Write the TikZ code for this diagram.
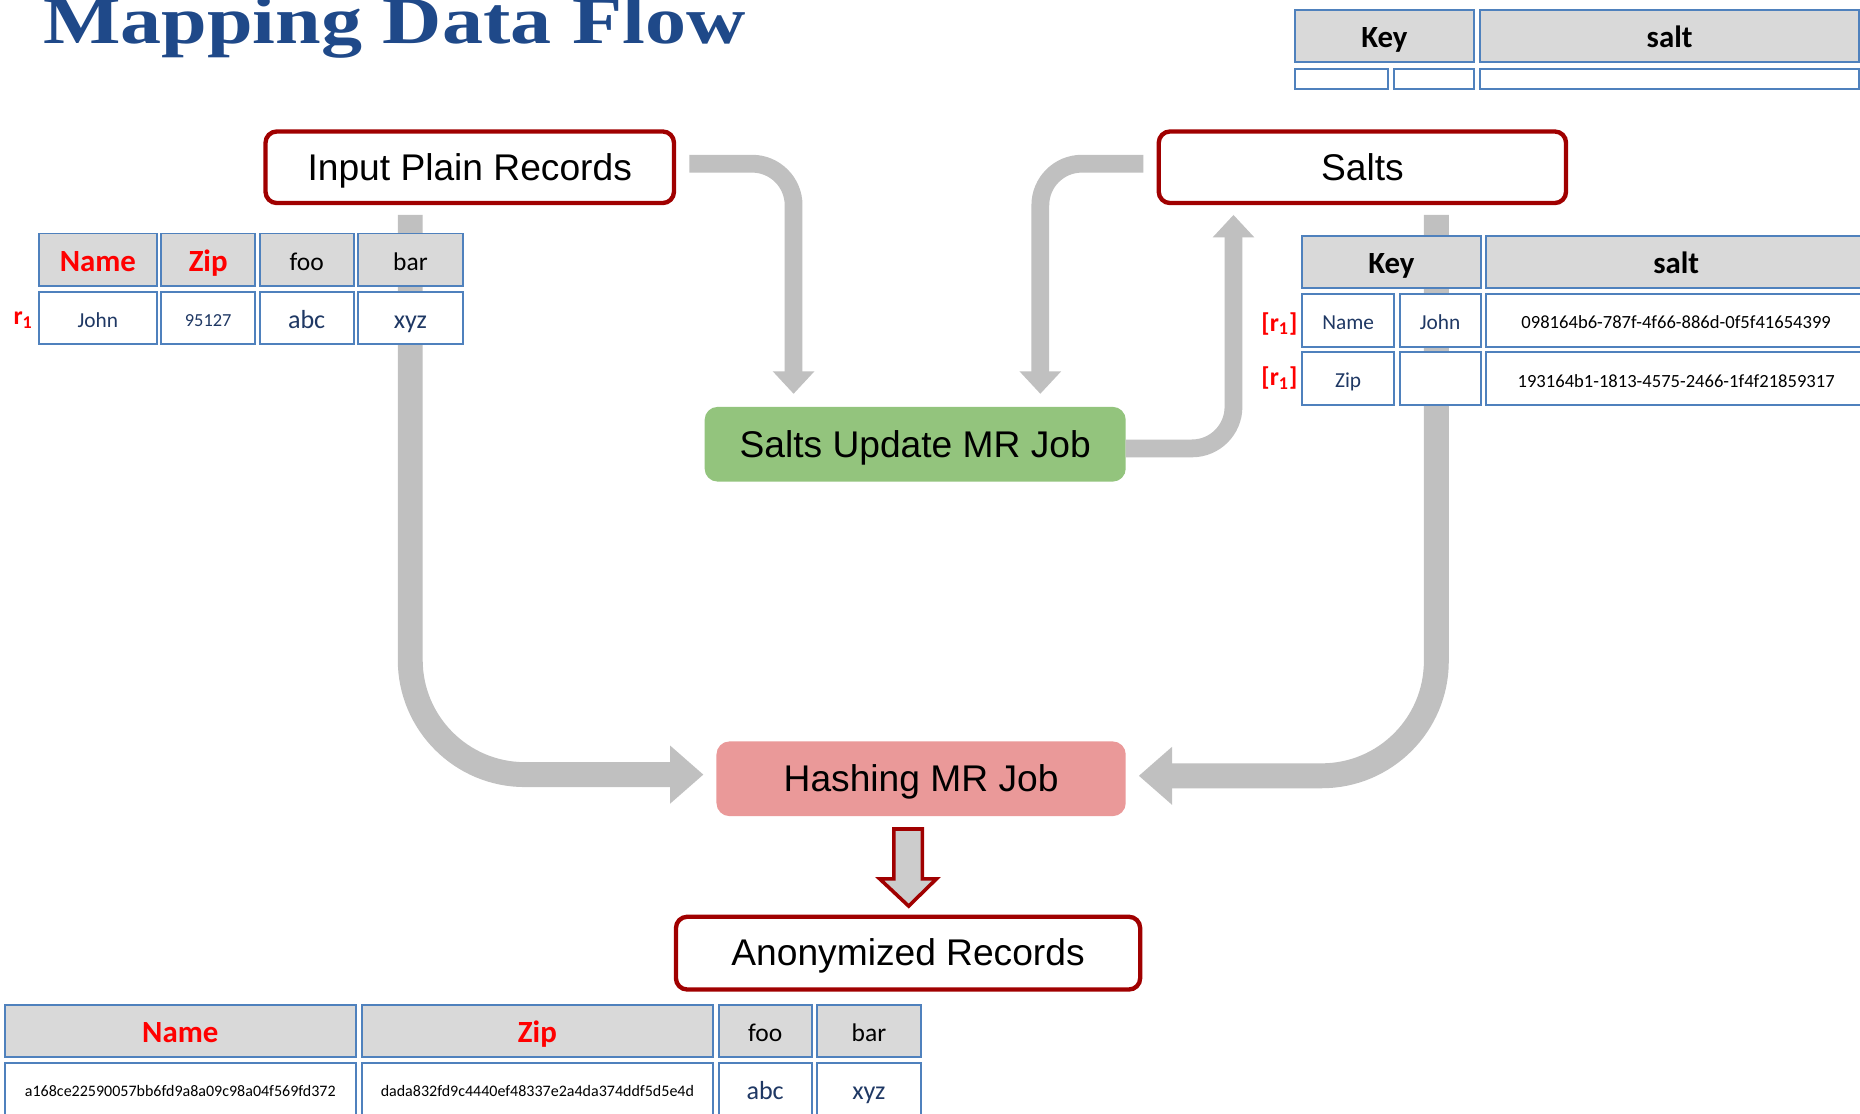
\documentclass[tikz,border=0pt]{standalone}
\usepackage{fontspec}
\usepackage{graphicx}
\setmainfont{Carlito}
\newfontfamily\boxfont{Liberation Sans}
\newfontfamily\titlefont{Liberation Serif}
\usetikzlibrary{arrows.meta,calc}

\definecolor{titleblue}{RGB}{31,73,137}
\definecolor{cellblue}{RGB}{79,129,189}
\definecolor{headgray}{RGB}{217,217,217}
\definecolor{navytext}{RGB}{31,56,100}
\definecolor{boxred}{RGB}{160,0,0}
\definecolor{jobgreen}{RGB}{147,196,125}
\definecolor{jobpink}{RGB}{234,153,153}
\definecolor{flowgray}{RGB}{192,192,192}
\definecolor{blockgray}{RGB}{204,204,204}
\definecolor{keyred}{RGB}{255,0,0}

\begin{document}
\begin{tikzpicture}[x=0.6pt,y=-0.6pt,
  % table cells: width and height in picture units
  cell/.style 2 args={draw=cellblue, line width=1pt, inner sep=0pt, outer sep=0pt,
    minimum width={#1*0.6pt-1pt}, minimum height={#2*0.6pt-1pt}},
  hcell/.style 2 args={cell={#1}{#2}, fill=headgray},
  dcell/.style 2 args={cell={#1}{#2}, fill=white},
  keyhd/.style={font=\fontsize{15.6pt}{18pt}\selectfont\bfseries, text=keyred,
    text height=11.8pt, text depth=0pt},
  boldhd/.style={font=\fontsize{15.6pt}{18pt}\selectfont\bfseries, text=black,
    text height=11.8pt, text depth=0pt},
  plainhd/.style={font=\fontsize{12.9pt}{15pt}\selectfont, text=black,
    text height=10.45pt, text depth=0pt},
  smallval/.style={font=\fontsize{10.8pt}{13pt}\selectfont, text=navytext,
    text height=9.4pt, text depth=0pt},
  zipval/.style={font=\fontsize{9.3pt}{11pt}\selectfont, text=navytext,
    text height=8.65pt, text depth=0pt},
  bigval/.style={font=\fontsize{13.2pt}{15pt}\selectfont, text=navytext,
    text height=10.6pt, text depth=0pt},
  saltval/.style={font=\fontsize{9.4pt}{11pt}\selectfont, text=black,
    text height=8.7pt, text depth=0pt},
  hashval/.style={font=\fontsize{8.1pt}{10pt}\selectfont, text=black,
    text height=8.05pt, text depth=0pt},
  rowlabel/.style={font=\fontsize{13pt}{15pt}\selectfont\bfseries, text=keyred, inner sep=0pt},
  % process boxes
  databox/.style 2 args={draw=boxred, line width=2.2pt, rounded corners=5.7pt, fill=white,
    inner sep=0pt, outer sep=0pt,
    minimum width={#1*0.6pt-2.2pt}, minimum height={#2*0.6pt-2.2pt},
    font=\boxfont\fontsize{18.8pt}{22pt}\selectfont, text height=17pt, text depth=4pt},
  jobbox/.style n args={3}{fill=#3, rounded corners=6.6pt, inner sep=0pt, outer sep=0pt,
    minimum width={#1*0.6pt}, minimum height={#2*0.6pt},
    font=\boxfont\fontsize{18.8pt}{22pt}\selectfont, text height=17pt, text depth=4pt},
  % connectors
  thinflow/.style={draw=flowgray, line width=9pt, rounded corners=21pt,
    -{Triangle[length=11.4pt,width=20.4pt]}},
  thickflow/.style={draw=flowgray, line width=12.6pt, rounded corners=58pt,
    -{Triangle[length=16.8pt,width=28.2pt]}},
  blockarrow/.style={draw=boxred, line width=1.8pt, fill=blockgray, line join=miter}
]
\useasboundingbox (0,0) rectangle (1568,939);
\fill[white] (0,0) rectangle (1568,939);

% title
\node[anchor=base west, inner sep=0pt, text=titleblue,
      font=\titlefont\bfseries\fontsize{34pt}{38pt}\selectfont] (title) at (36,37)
      {\resizebox{355.2pt}{\height}{Mapping Data Flow}};

% process boxes
\node[databox={348}{64}] (inp) at (396,141) {Input Plain Records};
\node[databox={347}{64}] (salts) at (1148.5,141) {Salts};
\node[jobbox={355}{63}{jobgreen}] (sup) at (771.5,374.5) {Salts Update MR Job};
\node[jobbox={345}{63}{jobpink}] (hash) at (776.5,656.5) {Hashing MR Job};
\node[databox={395}{65}] (anon) at (765.5,803.5) {Anonymized Records};

% flows into and out of the salts update job
\draw[thinflow] ($(inp.east)+(13,-3)$) -| ($(sup.north west)+(75,-11)$);
\draw[thinflow] ($(salts.west)+(-13,-3)$) -| ($(sup.north east)+(-72,-11)$);
\draw[thinflow] ($(sup.east)+(0,3.5)$) -| ($(salts.south west)+(63,10)$);

% flows into the hashing job
\draw[thickflow] ($(inp.south west)+(122,10)$) |- ($(hash.west)+(-11,-3.5)$);
\draw[thickflow] ($(salts.south west)+(234,10)$) |- ($(hash.east)+(11,-2.5)$);

% hashing output
\draw[blockarrow, shift={(anon.north)}]
  (-12,-74) -- (12,-74) -- (12,-32) -- (24,-32) -- (0.5,-9) -- (-24,-32) -- (-12,-32) -- cycle;

% input records table
\node[hcell={101}{46}, keyhd] (lname) at (82.5,219) {Name};
\node[hcell={81}{46}, keyhd] (lzip) at (175.5,219) {Zip};
\node[hcell={81}{46}, plainhd] (lfoo) at (258.5,219) {foo};
\node[hcell={90}{46}, plainhd] (lbar) at (346,219) {bar};
\node[dcell={101}{46}, smallval] (ljohn) at (82.5,268) {John};
\node[dcell={81}{46}, zipval] (lzipv) at (175.5,268) {95127};
\node[dcell={81}{46}, bigval] (labc) at (258.5,268) {abc};
\node[dcell={90}{46}, bigval] (lxyz) at (346,268) {xyz};
\node[rowlabel, anchor=east] (lr1) at (28,270) {r\textsubscript{1}};

% salts table
\node[hcell={152}{46}, boldhd] (skey) at (1173,221) {Key};
\node[hcell={322}{46}, boldhd] (ssalt) at (1413,221) {salt};
\node[dcell={79}{46}, smallval] (sname) at (1136.5,270) {Name};
\node[dcell={70}{46}, smallval] (sjohn) at (1214,270) {John};
\node[dcell={322}{46}, saltval] (sv1) at (1413,270) {098164b6-787f-4f66-886d-0f5f41654399};
\node[dcell={79}{46}, smallval] (szip) at (1136.5,319) {Zip};
\node[dcell={70}{46}] (sblank) at (1214,319) {};
\node[dcell={322}{46}, saltval] (sv2) at (1413,319) {193164b1-1813-4575-2466-1f4f21859317};
\node[rowlabel, anchor=east] (sr1) at (1094,273) {[r\textsubscript{1}]};
\node[rowlabel, anchor=east] (sr2) at (1094,319) {[r\textsubscript{1}]};

% empty salts table
\node[hcell={152}{45}, boldhd] (tkey) at (1167,30.5) {Key};
\node[hcell={321}{45}, boldhd] (tsalt) at (1407.5,30.5) {salt};
\node[dcell={80}{19}] (tk1) at (1131,66.5) {};
\node[dcell={69}{19}] (tk2) at (1208.5,66.5) {};
\node[dcell={321}{19}] (ts) at (1407.5,66.5) {};

% anonymized records table
\node[hcell={298}{46}, keyhd] (bname) at (152,869) {Name};
\node[hcell={298}{46}, keyhd] (bzip) at (453,869) {Zip};
\node[hcell={80}{46}, plainhd] (bfoo) at (645,869) {foo};
\node[hcell={89}{46}, plainhd] (bbar) at (732.5,869) {bar};
\node[dcell={298}{46}, hashval] (bnamev) at (152,918) {a168ce22590057bb6fd9a8a09c98a04f569fd372};
\node[dcell={298}{46}, hashval] (bzipv) at (453,918) {dada832fd9c4440ef48337e2a4da374ddf5d5e4d};
\node[dcell={80}{46}, bigval] (babc) at (645,918) {abc};
\node[dcell={89}{46}, bigval] (bxyz) at (732.5,918) {xyz};
\end{tikzpicture}
\end{document}
